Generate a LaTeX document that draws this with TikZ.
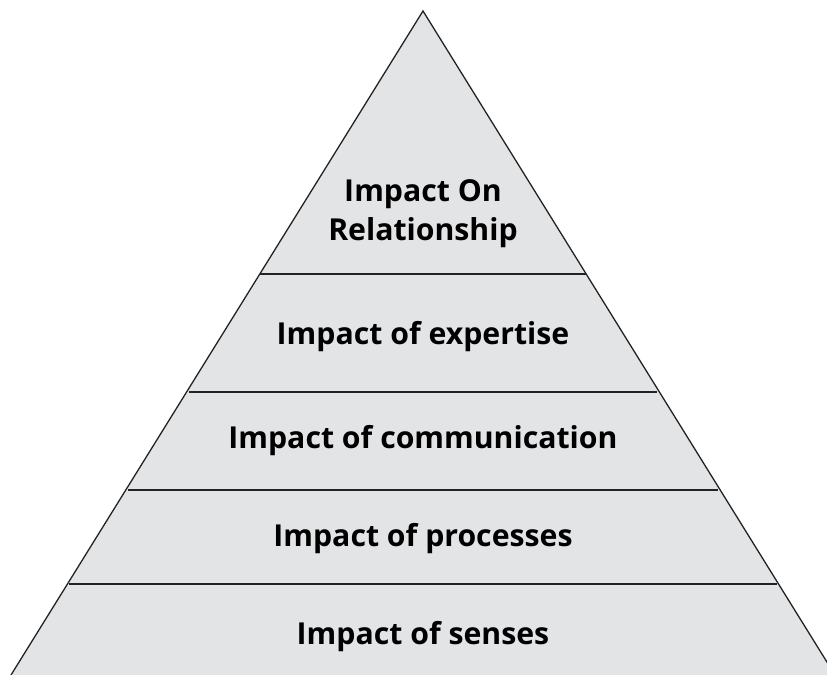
\documentclass[tikz,border=0pt]{standalone}
\usepackage{fontspec}
\setmainfont{Open Sans}
\definecolor{layerfill}{HTML}{E3E4E6}
\definecolor{edge}{HTML}{222222}
\begin{document}
\begin{tikzpicture}[x=0.03cm,y=-0.03cm,
  tier/.style={font=\bfseries\fontsize{25.8}{33}\selectfont, text=black, align=center},
  divider/.style={draw=edge, line width=1.1pt}]
\useasboundingbox (0,0) rectangle (827,675);
% pyramid outline
\coordinate (apex) at (423,11);
\coordinate (bl) at (11,675);
\coordinate (br) at (835,675);
\begin{scope}
  \clip (0,0) rectangle (827,675);
  \draw[fill=layerfill, draw=edge, line width=1.1pt, line join=miter] (bl) -- (apex) -- (br);
  \fill[layerfill] (bl) -- (br) -- (835,690) -- (11,690) -- cycle;
\end{scope}
% horizontal dividers between tiers
\coordinate (d1l) at (260,274); \coordinate (d1r) at (586,274);
\coordinate (d2l) at (189,392); \coordinate (d2r) at (657,392);
\coordinate (d3l) at (128,490); \coordinate (d3r) at (718,490);
\coordinate (d4l) at (69,584);  \coordinate (d4r) at (777,584);
\draw[divider] (d1l) -- (d1r);
\draw[divider] (d2l) -- (d2r);
\draw[divider] (d3l) -- (d3r);
\draw[divider] (d4l) -- (d4r);
% tier labels
\node[tier] (t1) at (423,214) {Impact On\\Relationship};
\node[tier] (t2) at (423,337) {Impact of expertise};
\node[tier] (t3) at (423,441) {Impact of communication};
\node[tier] (t4) at (423,539) {Impact of processes};
\node[tier] (t5) at (423,637) {Impact of senses};
\end{tikzpicture}
\end{document}
